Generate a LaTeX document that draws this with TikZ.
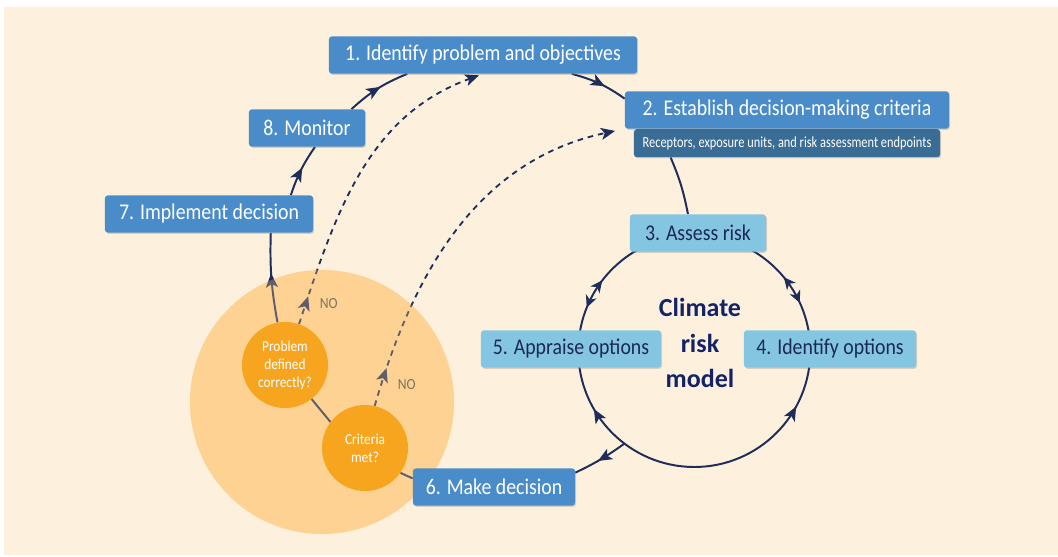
\documentclass[tikz,border=0pt]{standalone}
\usepackage{fontspec}
\setmainfont{Carlito}
\newfontfamily\stagefont{Carlito}[FakeStretch=0.88]
\newfontfamily\notefont{Carlito}[FakeStretch=0.8]
\usetikzlibrary{arrows.meta,positioning,decorations.markings,shadows}
\definecolor{paper}{HTML}{FDF1DE}
\definecolor{stageblue}{HTML}{4A8CCA}
\definecolor{noteblue}{HTML}{3A6D96}
\definecolor{modelblue}{HTML}{84C6E2}
\definecolor{navy}{HTML}{1E2D5A}
\definecolor{hubblue}{HTML}{132366}
\definecolor{halo}{HTML}{FDD293}
\definecolor{amber}{HTML}{F7A51E}
\pgfdeclarelayer{back}
\pgfdeclarelayer{tint}
\pgfdeclarelayer{front}
\pgfsetlayers{back,main,tint,front}

\begin{document}
\begin{tikzpicture}[x=0.025cm,y=0.025cm,>=Stealth,
stage/.style={fill=stageblue,rounded corners=2pt,text=white,font=\stagefont\fontsize{16}{19}\selectfont,minimum height=0.93cm,inner sep=0pt,drop shadow={opacity=0.3,shadow xshift=0.7pt,shadow yshift=-0.9pt}},
model/.style={stage,fill=modelblue,text=navy!90!black},
note/.style={stage,fill=noteblue,minimum height=0.7cm,font=\notefont\fontsize{11}{13}\selectfont},
check/.style={circle,fill=amber,text=white,minimum size=2.15cm,inner sep=0pt,align=center,font=\stagefont\fontsize{10.8}{12.8}\selectfont},
link/.style={draw=navy,line width=1.4pt},
loopback/.style={link,dash pattern=on 4pt off 3.5pt,line width=1.3pt},
tip/.style={-{Stealth[length=10pt,width=8.5pt,inset=2.5pt]}},
midtip/.style={postaction={decorate},decoration={markings,mark=at position #1 with {\arrow{Stealth[length=10pt,width=8.5pt,inset=2.5pt]}}}},
ringtips/.style={postaction={decorate},decoration={markings,
  mark=at position 0.0681 with {\arrowreversed{Stealth[length=8.5pt,width=8pt,inset=2.5pt]}},
  mark=at position 0.1097 with {\arrow{Stealth[length=8.5pt,width=8pt,inset=2.5pt]}},
  mark=at position 0.3958 with {\arrowreversed{Stealth[length=8.5pt,width=8pt,inset=2.5pt]}},
  mark=at position 0.4389 with {\arrow{Stealth[length=8.5pt,width=8pt,inset=2.5pt]}},
  mark=at position 0.5833 with {\arrowreversed{Stealth[length=10pt,width=8.5pt,inset=2.5pt]}},
  mark=at position 0.9206 with {\arrow{Stealth[length=10pt,width=8.5pt,inset=2.5pt]}}}},
lab/.style={font=\stagefont\fontsize{11}{13}\selectfont,text=black!70}]
\useasboundingbox (0,0) rectangle (1058,-557);
\begin{pgfonlayer}{back}
\fill[white] (0,0) rectangle (1058,-557);
\fill[paper] (4,-7) rectangle (1058,-555);
\fill[halo] (322,-402) circle[radius=132];
\end{pgfonlayer}
\begin{pgfonlayer}{front}
\node[stage,minimum width=7.7cm] (identify) at (483,-55) {1. Identify problem and objectives};
\node[stage,minimum width=8.1cm] (criteria) at (787,-110) {2. Establish decision-making criteria};
\node[note,minimum width=7.65cm,below=0pt of criteria] (receptors) {Receptors, exposure units, and risk assessment endpoints};
\node[model,minimum width=3.4cm] (assess) at (698,-233) {3. Assess risk};
\node[model,minimum width=4.3cm] (options) at (830,-349) {4. Identify options};
\node[model,minimum width=4.5cm] (appraise) at (571,-349) {5. Appraise options};
\node[stage,minimum width=4.05cm] (decide) at (494,-487) {6. Make decision};
\node[stage,minimum width=5.2cm] (implement) at (209,-214) {7. Implement decision};
\node[stage,minimum width=2.9cm] (monitor) at (307,-128) {8. Monitor};
\node[check] (problem) at (285,-365) {Problem\\defined\\correctly?};
\node[check] (met) at (365,-448) {Criteria\\met?};
\node[font=\bfseries\fontsize{18.5}{25}\selectfont,text=hubblue,align=center] (hub) at (700,-343) {Climate\\risk\\model};
\end{pgfonlayer}
\node[circle,minimum size=5.8cm,inner sep=0pt] (ring) at (694,-351) {};
\draw[link,ringtips] (ring.east) arc[start angle=0,end angle=360,radius=116];
\draw[link,midtip=.55] (problem.100) to[bend left=6] (implement.-17);
\draw[link,midtip=.55] (implement.13) to[bend left=8] (monitor.-67);
\draw[link,midtip=.55] (monitor.23) to[bend left=10] (identify.-166);
\draw[link,midtip=.6] (identify.-12) to[bend left=10] (criteria.176);
\draw[link] (receptors.-173) to[bend left=6] (assess.118);
\draw[link,midtip=.55] (ring.233) to[bend left=5] (decide.10);
\draw[link] (decide.174) -- (met.-35);
\draw[link] (met.143) -- (problem.-52);
\draw[loopback,tip,midtip=.09,shorten >=3pt] (problem.71) to[out=72,in=200]
  node[pos=.06,right=6pt,lab] (no1) {NO} (identify.south);
\draw[loopback,tip,midtip=.1,shorten >=7pt] (met.77) to[out=74,in=192]
  node[pos=.05,right=8pt,lab] (no2) {NO} (criteria.south west);
\begin{pgfonlayer}{tint}
\fill[halo,fill opacity=.3] (322,-402) circle[radius=132];
\end{pgfonlayer}
\end{tikzpicture}
\end{document}
